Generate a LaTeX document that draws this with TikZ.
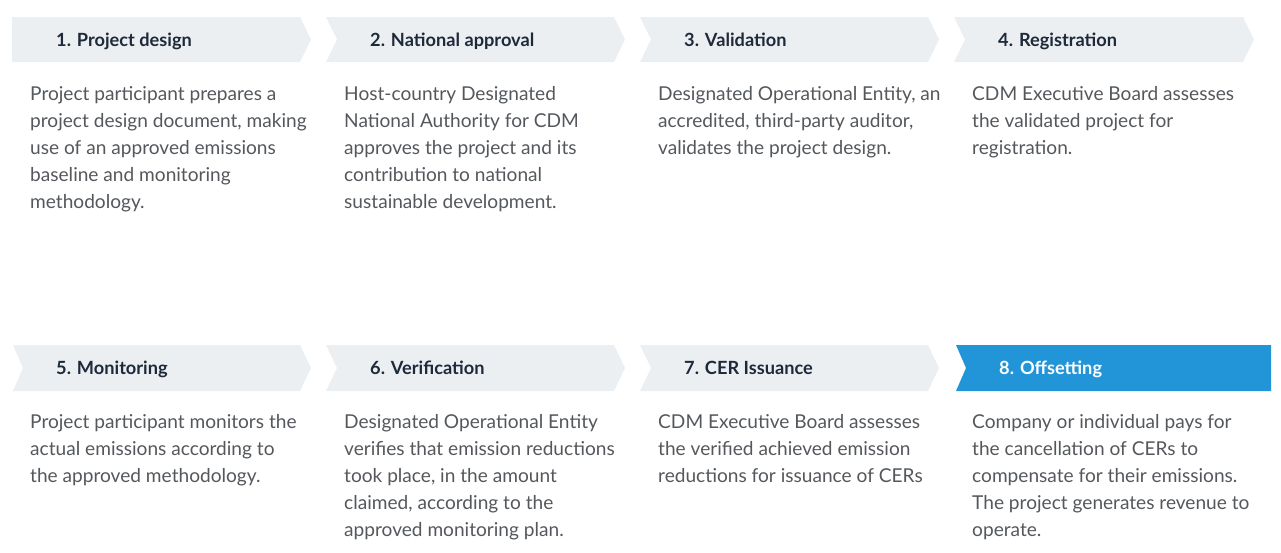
\documentclass[tikz,border=0pt]{standalone}
\usepackage{fontspec}
\setmainfont{Lato}
\definecolor{chevgray}{RGB}{236,239,242}
\definecolor{chevblue}{RGB}{34,148,216}
\definecolor{titlecol}{RGB}{30,42,58}
\definecolor{bodycol}{RGB}{84,88,92}
\usepackage{tikz}
\tikzstyle{chev}=[fill=chevgray]
\tikzstyle{chevlast}=[fill=chevblue]
\tikzstyle{steptitle}=[anchor=base west,inner sep=0pt,text=titlecol,font=\fontsize{18.2}{22}\selectfont\bfseries]
\tikzstyle{stepbody}=[anchor=north west,inner sep=0pt,align=left,text=bodycol,font=\fontsize{19.1}{27}\selectfont]

\begin{document}
\begin{tikzpicture}[x=1pt,y=-1pt]

            \useasboundingbox (0,0) rectangle (1281,552);

            % top row
            \path[chev] (12,17) -- (300,17) -- (311,39.5) -- (300,62) -- (12,62) -- cycle;
            \path[chev] (326,17) -- (614,17) -- (625,39.5) -- (614,62) -- (326,62) -- (337,39.5) -- cycle;
            \path[chev] (640,17) -- (928,17) -- (939,39.5) -- (928,62) -- (640,62) -- (651,39.5) -- cycle;
            \path[chev] (954,17) -- (1243,17) -- (1254,39.5) -- (1243,62) -- (954,62) -- (965,39.5) -- cycle;

            % bottom row
            \path[chev] (13,345) -- (300,345) -- (311,368) -- (300,391) -- (13,391) -- (23,368) -- cycle;
            \path[chev] (326,345) -- (614,345) -- (625,368) -- (614,391) -- (326,391) -- (337,368) -- cycle;
            \path[chev] (640,345) -- (928,345) -- (939,368) -- (928,391) -- (640,391) -- (651,368) -- cycle;
            \path[chevlast] (956,345) -- (1271,345) -- (1271,391) -- (956,391) -- (966,368) -- cycle;

            \node[steptitle] (t1) at (56,46) {1. Project design};
            \node[steptitle] (t2) at (370,46) {2. National approval};
            \node[steptitle] (t3) at (684,46) {3. Validation};
            \node[steptitle] (t4) at (998,46) {4. Registration};
            \node[steptitle] (t5) at (56,374.5) {5. Monitoring};
            \node[steptitle] (t6) at (370,374.5) {6. Verification};
            \node[steptitle] (t7) at (684,374.5) {7. CER Issuance};
            \node[steptitle,text=white] (t8) at (999,374.5) {8. Offsetting};

            \node[stepbody] (b1) at (30,86.5) {Project participant prepares a\\project design document, making\\use of an approved emissions\\baseline and monitoring\\methodology.};
            \node[stepbody] (b2) at (344,86.5) {Host-country Designated\\National Authority for CDM\\approves the project and its\\contribution to national\\sustainable development.};
            \node[stepbody] (b3) at (658,86.5) {Designated Operational Entity, an\\accredited, third-party auditor,\\validates the project design.};
            \node[stepbody] (b4) at (972,86.5) {CDM Executive Board assesses\\the validated project for\\registration.};
            \node[stepbody] (b5) at (30,414.5) {Project participant monitors the\\actual emissions according to\\the approved methodology.};
            \node[stepbody] (b6) at (344,414.5) {Designated Operational Entity\\verifies that emission reductions\\took place, in the amount\\claimed, according to the\\approved monitoring plan.};
            \node[stepbody] (b7) at (658,414.5) {CDM Executive Board assesses\\the verified achieved emission\\reductions for issuance of CERs};
            \node[stepbody] (b8) at (972,414.5) {Company or individual pays for\\the cancellation of CERs to\\compensate for their emissions.\\The project generates revenue to\\operate.};

        \end{tikzpicture}
\end{document}
